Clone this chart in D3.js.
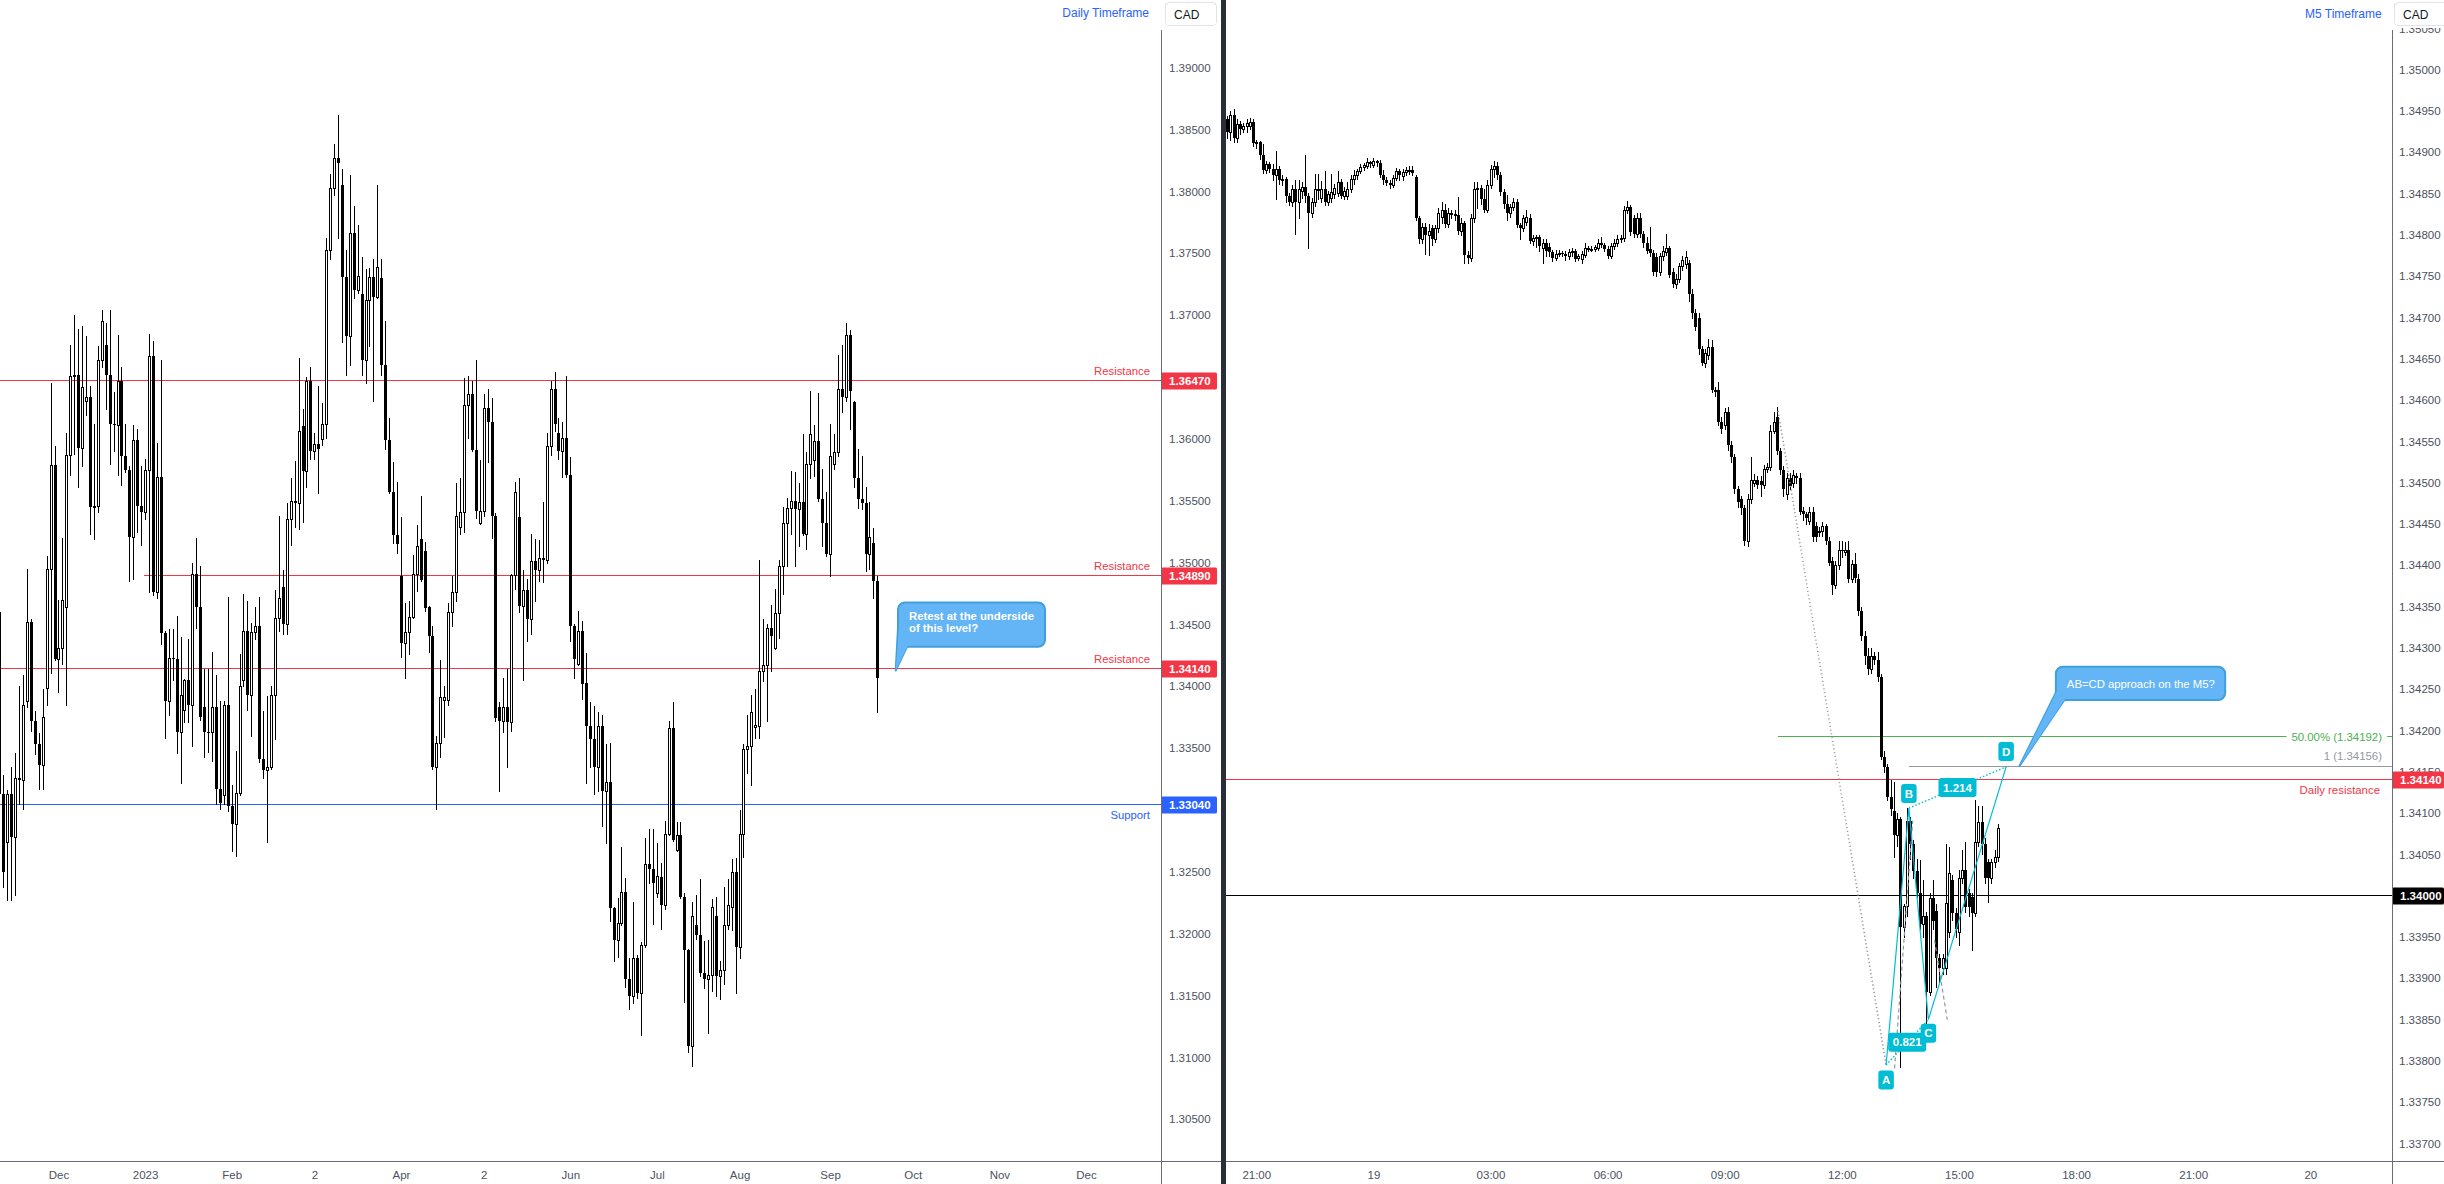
<!DOCTYPE html>
<html><head><meta charset="utf-8">
<script src="https://cdn.jsdelivr.net/npm/d3@7"></script>
<style>
html,body{margin:0;padding:0;background:#fff;overflow:hidden}
svg{display:block}
text{font-family:"Liberation Sans",Arial,sans-serif}
</style></head>
<body><svg id="c" width="2444" height="1184"></svg>
<script>
// ---------------- DATA ----------------
// Daily USD/CAD candles (values in 1e-4), first candle dated 2022-11-10, weekdays only
const dailyStart = "2022-11-10";
const dailyOpen = [
13460,13313,13274,13313,13278,13326,13324,13388,13452,13372,
13353,13336,13399,13495,13579,13422,13431,13464,13587,13651,
13652,13593,13631,13634,13545,13546,13664,13676,13652,13612,
13611,13647,13586,13575,13521,13599,13546,13541,13575,13667,
13476,13569,13443,13388,13423,13422,13363,13381,13405,13385,
13491,13464,13383,13363,13363,13383,13317,13312,13385,13303,
13289,13314,13405,13445,13393,13444,13449,13341,13332,13335,
13393,13455,13480,13450,13535,13550,13548,13610,13574,13647,
13590,13596,13600,13612,13753,13803,13827,13805,13731,13683,
13766,13720,13717,13664,13712,13731,13715,13730,13660,13599,
13557,13522,13489,13435,13444,13456,13491,13519,13509,13464,
13441,13335,13354,13389,13389,13460,13476,13529,13541,13627,
13636,13591,13532,13542,13625,13614,13538,13383,13372,13383,
13371,13490,13537,13465,13478,13454,13501,13494,13504,13502,
13594,13640,13605,13590,13601,13571,13449,13418,13445,13403,
13368,13357,13335,13368,13315,13323,13221,13195,13209,13234,
13163,13150,13180,13152,13191,13256,13252,13233,13246,13223,
13281,13366,13268,13280,13230,13187,13109,13207,13199,13168,
13163,13167,13214,13166,13171,13207,13222,13250,13189,13281,
13349,13352,13367,13368,13412,13417,13447,13431,13459,13497,
13532,13544,13550,13543,13549,13523,13580,13583,13598,13551,
13532,13507,13580,13589,13640,13634,13684,13630,13568,13551,
13548,13507,13516,13485];
const dailyHigh = [
13525,13328,13316,13335,13346,13400,13409,13495,13454,13380,
13362,13398,13505,13645,13594,13470,13520,13605,13676,13700,
13689,13691,13683,13643,13612,13675,13704,13694,13704,13638,
13684,13658,13612,13578,13611,13608,13578,13584,13685,13679,
13597,13664,13445,13446,13446,13457,13440,13406,13438,13500,
13520,13497,13414,13414,13428,13409,13388,13388,13472,13320,
13348,13426,13475,13469,13451,13464,13472,13380,13392,13400,
13478,13538,13494,13548,13568,13582,13665,13624,13650,13658,
13605,13643,13629,13762,13814,13838,13862,13818,13753,13813,
13788,13773,13747,13737,13738,13745,13805,13745,13695,13617,
13581,13565,13537,13467,13469,13506,13530,13554,13517,13465,
13449,13360,13421,13400,13467,13489,13564,13568,13649,13651,
13647,13664,13583,13636,13640,13633,13540,13387,13407,13414,
13491,13565,13568,13494,13487,13523,13519,13518,13549,13605,
13647,13654,13617,13614,13651,13585,13450,13461,13453,13427,
13387,13384,13379,13377,13353,13354,13222,13229,13270,13245,
13180,13226,13183,13193,13277,13285,13285,13273,13257,13291,
13372,13387,13290,13290,13233,13188,13226,13231,13244,13194,
13195,13228,13230,13178,13238,13244,13260,13261,13300,13353,
13377,13393,13398,13502,13454,13450,13466,13479,13502,13545,
13552,13574,13573,13564,13604,13589,13639,13611,13637,13576,
13557,13612,13604,13668,13676,13694,13688,13631,13592,13586,
13561,13549,13528,13489];
const dailyLow = [
13230,13238,13227,13227,13231,13305,13301,13383,13364,13345,
13317,13317,13385,13411,13421,13395,13418,13385,13571,13588,
13561,13578,13619,13523,13519,13541,13658,13624,13580,13590,
13571,13563,13573,13485,13487,13525,13514,13535,13476,13474,
13471,13434,13358,13377,13405,13346,13322,13371,13371,13352,
13447,13373,13343,13347,13340,13305,13301,13305,13299,13267,
13263,13312,13400,13381,13360,13438,13339,13326,13274,13333,
13357,13445,13442,13442,13514,13529,13527,13533,13561,13584,
13584,13556,13595,13601,13745,13797,13762,13678,13652,13660,
13714,13718,13652,13645,13675,13631,13714,13652,13592,13556,
13516,13508,13424,13407,13426,13455,13477,13485,13461,13428,
13333,13301,13343,13359,13385,13449,13469,13523,13525,13601,
13590,13536,13531,13538,13581,13520,13372,13315,13363,13335,
13364,13479,13460,13405,13437,13442,13469,13485,13484,13500,
13587,13606,13584,13569,13569,13437,13407,13417,13390,13322,
13335,13313,13315,13287,13273,13210,13178,13181,13207,13157,
13139,13144,13148,13118,13189,13241,13208,13230,13204,13220,
13280,13275,13267,13229,13145,13104,13093,13196,13166,13156,
13120,13154,13150,13147,13159,13204,13203,13152,13180,13262,
13330,13320,13358,13358,13404,13372,13412,13430,13439,13475,
13497,13523,13497,13513,13522,13511,13568,13570,13550,13513,
13505,13489,13576,13586,13622,13631,13608,13561,13544,13543,
13493,13495,13471,13379];
const dailyClose = [
13313,13250,13313,13278,13326,13324,13385,13452,13372,13353,
13336,13375,13495,13579,13422,13431,13470,13587,13651,13652,
13593,13642,13634,13545,13546,13664,13695,13652,13612,13611,
13647,13586,13575,13521,13599,13546,13541,13575,13667,13476,
13569,13443,13388,13423,13422,13363,13393,13405,13385,13491,
13464,13375,13363,13362,13383,13317,13306,13385,13303,13289,
13314,13400,13445,13393,13444,13449,13341,13332,13335,13393,
13455,13471,13450,13535,13550,13548,13606,13574,13647,13590,
13596,13592,13612,13753,13803,13827,13823,13731,13683,13766,
13720,13732,13664,13712,13731,13715,13739,13660,13599,13557,
13522,13515,13435,13444,13456,13491,13513,13486,13463,13441,
13335,13354,13391,13391,13460,13476,13538,13541,13627,13636,
13591,13542,13542,13625,13614,13538,13374,13372,13383,13371,
13490,13557,13465,13478,13454,13501,13494,13504,13502,13594,
13640,13612,13590,13601,13571,13449,13422,13445,13402,13368,
13357,13335,13368,13315,13323,13221,13195,13209,13234,13163,
13150,13180,13152,13191,13256,13252,13241,13247,13223,13281,
13366,13276,13280,13230,13187,13109,13214,13199,13168,13163,
13167,13222,13166,13171,13207,13223,13250,13189,13281,13349,
13352,13379,13369,13412,13417,13447,13441,13459,13497,13532,
13544,13550,13543,13549,13523,13580,13604,13598,13551,13532,
13507,13586,13589,13640,13634,13684,13639,13568,13551,13548,
13507,13521,13485,13407];
const dailyTickDates = ["2022-12-01","2023-01-02","2023-02-01","2023-03-02","2023-04-03","2023-05-02","2023-06-01","2023-07-03","2023-08-01","2023-09-01","2023-10-02","2023-11-01","2023-12-01"];
const dailyTickLabels = ["Dec","2023","Feb","2","Apr","2","Jun","Jul","Aug","Sep","Oct","Nov","Dec"];
// (1.33000 and 1.36500 are hidden behind the price boxes in the reference)
const dailyPriceTicks = [1.305,1.31,1.315,1.32,1.325,1.335,1.34,1.345,1.35,1.355,1.36,1.37,1.375,1.38,1.385,1.39];
const dailyResistance = [1.3647, 1.3489, 1.3414];
const dailyResistanceStart = ["2022-11-10", "2023-01-02", "2022-11-10"];
const dailySupport = 1.3304;
const dailyCalloutText = ["Retest at the underside", "of this level?"];
const dailyCalloutTip = ["2023-09-26", 1.34127];

// M5 candles (values in 1e-5), first candle 2023-09-18 20:15
const m5Start = "2023-09-18T20:15:00Z";
const m5Open = [
134940,134924,134945,134917,134934,134928,134932,134932,134937,134911,
134912,134897,134878,134886,134880,134872,134880,134867,134868,134847,
134840,134855,134840,134853,134858,134847,134826,134840,134855,134845,
134855,134840,134845,134849,134851,134864,134847,134847,134856,134868,
134872,134877,134882,134884,134888,134885,134889,134887,134872,134866,
134863,134861,134869,134877,134871,134876,134878,134879,134870,134820,
134795,134810,134800,134808,134795,134808,134822,134830,134813,134827,
134824,134824,134805,134815,134776,134772,134820,134855,134857,134843,
134830,134860,134880,134884,134873,134852,134837,134826,134834,134840,
134812,134808,134816,134820,134793,134796,134797,134784,134790,134785,
134779,134772,134777,134778,134777,134774,134779,134780,134772,134771,
134776,134784,134782,134783,134784,134790,134788,134783,134775,134786,
134790,134795,134796,134830,134834,134820,134801,134820,134801,134790,
134783,134778,134773,134755,134774,134779,134784,134755,134740,134747,
134762,134765,134766,134728,134705,134700,134662,134645,134655,134664,
134612,134612,134573,134570,134585,134546,134531,134492,134480,134469,
134430,134480,134500,134503,134502,134497,134517,134519,134563,134580,
134538,134515,134486,134506,134500,134508,134506,134466,134462,134454,
134465,134448,134440,134441,134447,134430,134405,134376,134400,134419,
134416,134419,134384,134401,134384,134345,134315,134290,134275,134290,
134285,134265,134168,134156,134120,134102,134073,134093,133962,133987,
134090,134063,134030,134003,133966,133975,133884,133997,133981,133924,
133912,133912,133956,134019,133979,133956,134021,134031,134003,133999,
133979,134065,134089,134063,134041,134021,134041,134047];
const m5High = [
134944,134950,134953,134940,134938,134936,134940,134942,134940,134915,
134914,134910,134890,134888,134886,134901,134883,134872,134870,134851,
134860,134866,134866,134864,134897,134851,134845,134874,134874,134865,
134877,134853,134874,134862,134877,134868,134858,134864,134872,134878,
134880,134886,134887,134893,134890,134893,134891,134891,134878,134870,
134866,134873,134881,134880,134880,134882,134884,134884,134872,134823,
134815,134815,134813,134812,134812,134832,134840,134838,134833,134830,
134830,134846,134820,134817,134780,134825,134864,134864,134860,134855,
134866,134885,134890,134888,134876,134855,134848,134838,134845,134844,
134815,134824,134830,134825,134800,134800,134800,134795,134795,134790,
134782,134782,134782,134780,134780,134783,134784,134783,134777,134780,
134790,134786,134786,134788,134795,134797,134790,134786,134790,134795,
134800,134800,134835,134841,134836,134824,134826,134826,134805,134797,
134809,134782,134778,134778,134786,134801,134787,134760,134753,134766,
134775,134780,134770,134735,134710,134705,134666,134662,134674,134673,
134616,134622,134580,134590,134592,134550,134535,134496,134484,134473,
134486,134531,134510,134508,134508,134522,134524,134570,134585,134592,
134542,134520,134512,134512,134515,134512,134512,134470,134465,134470,
134470,134452,134446,134453,134450,134434,134410,134405,134430,134430,
134428,134430,134406,134415,134390,134350,134320,134300,134300,134295,
134295,134268,134175,134160,134140,134138,134100,134095,133990,134106,
134095,134068,134045,134043,134019,133980,134003,134019,133990,133930,
133930,134063,134059,134025,133985,134031,134055,134065,134008,134003,
134116,134108,134108,134070,134045,134045,134055,134087];
const m5Low = [
134917,134915,134912,134913,134922,134924,134925,134928,134908,134905,
134892,134875,134875,134876,134866,134843,134862,134860,134840,134836,
134835,134801,134820,134845,134840,134784,134822,134835,134843,134840,
134836,134836,134840,134845,134847,134845,134843,134843,134852,134862,
134868,134875,134879,134881,134882,134882,134883,134870,134862,134860,
134857,134858,134866,134866,134867,134872,134874,134872,134818,134790,
134790,134777,134776,134788,134792,134804,134815,134810,134810,134820,
134818,134801,134800,134766,134766,134768,134816,134832,134838,134828,
134828,134857,134870,134868,134848,134832,134818,134822,134830,134810,
134795,134805,134812,134790,134788,134785,134780,134766,134775,134774,
134768,134770,134774,134774,134770,134771,134775,134768,134770,134766,
134773,134780,134780,134781,134782,134785,134780,134772,134772,134783,
134787,134792,134793,134826,134800,134798,134798,134797,134785,134778,
134774,134752,134750,134751,134770,134776,134749,134737,134736,134743,
134758,134760,134720,134700,134685,134656,134643,134640,134650,134610,
134605,134570,134560,134565,134540,134525,134488,134470,134462,134425,
134423,134475,134496,134493,134484,134493,134513,134515,134560,134535,
134510,134484,134480,134492,134495,134500,134462,134455,134450,134450,
134430,134430,134436,134436,134426,134400,134365,134372,134396,134410,
134412,134380,134380,134380,134340,134310,134280,134268,134270,134280,
134260,134165,134150,134116,134098,134047,134060,133793,133950,133975,
134045,134022,133998,133960,133950,133841,133880,133960,133890,133895,
133905,133905,133950,133970,133950,133940,134015,133980,133975,133934,
133975,134060,134050,134015,133992,134015,134035,134042];
const m5Close = [
134924,134945,134917,134934,134928,134932,134935,134937,134911,134912,
134897,134878,134886,134880,134872,134880,134867,134868,134847,134840,
134855,134840,134855,134858,134847,134826,134840,134855,134856,134855,
134840,134849,134852,134857,134864,134847,134853,134856,134868,134872,
134877,134882,134885,134888,134886,134889,134887,134872,134866,134863,
134861,134869,134877,134873,134876,134878,134879,134875,134820,134795,
134810,134800,134805,134795,134808,134827,134830,134813,134827,134824,
134825,134805,134815,134776,134772,134820,134855,134857,134843,134830,
134860,134880,134884,134873,134852,134837,134826,134834,134840,134812,
134808,134820,134822,134793,134796,134797,134786,134790,134780,134779,
134772,134777,134778,134777,134774,134779,134780,134771,134774,134777,
134784,134782,134783,134785,134790,134788,134783,134775,134786,134790,
134795,134796,134830,134834,134803,134801,134820,134801,134790,134781,
134778,134755,134755,134774,134781,134784,134751,134740,134747,134762,
134770,134773,134728,134705,134689,134662,134645,134657,134664,134612,
134610,134573,134565,134585,134546,134531,134492,134477,134469,134430,
134480,134503,134503,134497,134497,134517,134519,134563,134574,134538,
134515,134492,134506,134496,134509,134506,134465,134462,134457,134465,
134434,134434,134442,134447,134430,134403,134376,134400,134419,134418,
134419,134384,134401,134385,134345,134315,134290,134275,134290,134285,
134265,134168,134156,134120,134105,134073,134093,133962,133987,134090,
134063,134030,134003,133966,133975,133884,133997,133969,133924,133912,
133924,133991,134027,133979,133960,134021,134031,133986,133986,133979,
134065,134089,134063,134021,134021,134041,134047,134082];
const m5TickTimes = ["2023-09-18T21:00:00Z","2023-09-19T00:00:00Z","2023-09-19T03:00:00Z","2023-09-19T06:00:00Z","2023-09-19T09:00:00Z","2023-09-19T12:00:00Z","2023-09-19T15:00:00Z","2023-09-19T18:00:00Z","2023-09-19T21:00:00Z","2023-09-20T00:00:00Z"];
const m5TickLabels = ["21:00","19","03:00","06:00","09:00","12:00","15:00","18:00","21:00","20"];
// (1.34000 is shown by its own black price box)
const m5PriceTicks = [1.337,1.3375,1.338,1.3385,1.339,1.3395,1.3405,1.341,1.3415,1.342,1.3425,1.343,1.3435,1.344,1.3445,1.345,1.3455,1.346,1.3465,1.347,1.3475,1.348,1.3485,1.349,1.3495,1.35,1.3505];
const m5DailyResistance = 1.3414;
const m5RoundLevel = 1.34;
// ABCD pattern points: bar offsets from m5Start (5-minute bars) and prices
const abcdNames = ["A","B","C","D"];
const abcdBar = [202.6, 209.6, 215.6, 239.5];
const abcdPrice = [1.33795, 1.34106, 1.33850, 1.34156];
const abcdRatios = ["0.821", "1.214"];
const swingHighBar = 169.4, swingHighPrice = 1.34587;
const fibLevels = [1.34192, 1.34156];
const fibLabels = ["50.00% (1.34192)", "1 (1.34156)"];
const fibStartBar = [169.4, 209.6];
const greyDashBars = [[205.2, 210.8], [217.5, 221.4]];
const greyDashPrices = [[1.33791, 1.34091], [1.33946, 1.33850]];
const m5CalloutText = "AB=CD approach on the M5?";
const m5CalloutTip = [243.6, 1.34157];

// ---------------- HELPERS ----------------
const svg = d3.select("#c");
const FONT = '"Liberation Sans",Arial,sans-serif';
const AXIS_TXT = "#4c525e";
function weekdayIndex(startStr, dateStr){
  const s = new Date(startStr+"T00:00:00Z"), d = new Date(dateStr+"T00:00:00Z");
  let n = 0;
  for (let t = new Date(s); t < d; t.setUTCDate(t.getUTCDate()+1)) { const w = t.getUTCDay(); if (w!==0 && w!==6) n++; }
  return n;
}
const m5t0 = new Date(m5Start).getTime();
const barOf = s => (new Date(s).getTime() - m5t0) / 300000;
const px = v => Math.round(v) + 0.5;

function drawCandles(g, n, x, y, O, Hi, Lo, C, div){
  const idx = d3.range(n);
  g.selectAll("line.w").data(idx).join("line").attr("class","w")
    .attr("x1", i => Math.round(x(i))+0.5).attr("x2", i => Math.round(x(i))+0.5)
    .attr("y1", i => Math.round(y(Hi[i]/div))).attr("y2", i => Math.round(y(Lo[i]/div))+1)
    .attr("stroke","#000").attr("stroke-width",1);
  g.selectAll("rect.b").data(idx).join("rect").attr("class","b")
    .attr("x", i => Math.round(x(i))-1)
    .attr("y", i => Math.round(y(Math.max(O[i],C[i])/div)))
    .attr("width", 3)
    .attr("height", i => { const t=Math.round(y(Math.max(O[i],C[i])/div)), b=Math.round(y(Math.min(O[i],C[i])/div)); return Math.max(1,b-t)+(C[i]>O[i]?1:0); })
    .attr("fill","#000");
  const up = idx.filter(i => C[i] > O[i] && (Math.round(y(O[i]/div)) - Math.round(y(C[i]/div))) >= 2);
  g.selectAll("rect.h").data(up).join("rect").attr("class","h")
    .attr("x", i => Math.round(x(i)))
    .attr("y", i => Math.round(y(C[i]/div))+1)
    .attr("width", 1)
    .attr("height", i => Math.round(y(O[i]/div)) - Math.round(y(C[i]/div)) - 1)
    .attr("fill","#fff");
}
function priceBox(g, x0, w, yv, text, fill){
  g.append("rect").attr("x",x0).attr("y",Math.round(yv)-8.5).attr("width",w).attr("height",17).attr("rx",1.5).attr("fill",fill);
  g.append("text").attr("x",x0+8).attr("y",yv).attr("dy","0.35em").attr("fill","#fff")
    .attr("font-size","11.5px").attr("font-weight","bold").text(text);
}
function callout(g, bx, by, bw, bh, a1, a2, tip, lines, fs, weight){
  const fill="#64b5f6", stroke="#3fa0dc";
  g.append("path").attr("d", d3.line()([a1, a2, tip]) + "Z").attr("fill",fill).attr("stroke",stroke).attr("stroke-width",2).attr("stroke-linejoin","round");
  g.append("rect").attr("x",bx).attr("y",by).attr("width",bw).attr("height",bh).attr("rx",7).attr("fill",fill).attr("stroke",stroke).attr("stroke-width",2);
  g.append("path").attr("d", d3.line()([[a1[0]+1.5,a1[1]-3],[a2[0]+2,a2[1]-1.5],[ (a1[0]+a2[0])/2+1, (a1[1]+a2[1])/2+4 ]]) + "Z").attr("fill",fill);
  g.append("path").attr("d", d3.line()([[a1[0]+1.2,a1[1]-2],[a2[0]+1,a2[1]-1.2],tip]) + "Z").attr("fill",fill);
  lines.forEach((t,k)=> g.append("text").attr("x",bx+11).attr("y",lines.length>1 ? by+18+k*12 : by+bh/2+4.3)
    .attr("fill","#fff").attr("font-size",fs).attr("font-weight",weight).text(t));
}

// ---------------- LEFT (DAILY) PANEL ----------------
const LX1 = 1161, BOT = 1161, TOP = 30;
const xD = d3.scaleLinear().domain([0, 276]).range([-0.6, 1086.0]);
const yD = d3.scaleLinear().domain([1.39, 1.305]).range([67.7, 1119.3]);
svg.append("clipPath").attr("id","clipL").append("rect").attr("x",0).attr("y",0).attr("width",LX1).attr("height",BOT);
const gL = svg.append("g").attr("clip-path","url(#clipL)");

// level lines
const gLines = gL.append("g").attr("shape-rendering","crispEdges");
dailyResistance.forEach((v,k)=>{
  const xs = Math.max(0, xD(weekdayIndex(dailyStart, dailyResistanceStart[k])) - 1);
  gLines.append("line").attr("x1", k===1 ? xs : 0).attr("x2", LX1).attr("y1", px(yD(v))-1).attr("y2", px(yD(v))-1).attr("stroke","#f23645").attr("stroke-width",1);
  gL.append("text").attr("x",1150).attr("y",yD(v)-10).attr("dy","0.35em").attr("text-anchor","end").attr("fill","#f23645").attr("font-size","11.3px").text("Resistance");
});
gLines.append("line").attr("x1",0).attr("x2",LX1).attr("y1",px(yD(dailySupport))-1).attr("y2",px(yD(dailySupport))-1).attr("stroke","#2962ff").attr("stroke-width",1);
gL.append("text").attr("x",1150).attr("y",yD(dailySupport)+10).attr("dy","0.35em").attr("text-anchor","end").attr("fill","#2962ff").attr("font-size","11.3px").text("Support");

const gCD = gL.append("g").attr("shape-rendering","crispEdges");
drawCandles(gCD, dailyOpen.length, xD, yD, dailyOpen, dailyHigh, dailyLow, dailyClose, 10000);

// callout
{
  const tipX = xD(weekdayIndex(dailyStart, dailyCalloutTip[0])) - 1.3, tipY = yD(dailyCalloutTip[1]);
  const bx = tipX + 2.3, by = tipY - 68.1;
  callout(gL, bx, by, 147, 44.3, [bx+0.5, by+15.5], [bx+9, by+44.3], [tipX, tipY], dailyCalloutText, "11.3px", "bold");
}
// header
svg.append("text").attr("x",1149).attr("y",17).attr("text-anchor","end").attr("fill","#2962ff").attr("font-size","12px").text("Daily Timeframe");

// price axis
const gAL = svg.append("g").attr("transform",`translate(${LX1},0)`);
svg.append("clipPath").attr("id","clipAL").append("rect").attr("x",0).attr("y",28).attr("width",60).attr("height",BOT-28);
const axL = d3.axisRight(yD).tickValues(dailyPriceTicks).tickFormat(d3.format(".5f")).tickSize(0).tickPadding(8);
gAL.attr("clip-path","url(#clipAL)").call(axL);
gAL.select(".domain").remove();
gAL.selectAll("text").attr("fill",AXIS_TXT).attr("font-size","11.5px").attr("font-family",FONT);
dailyResistance.forEach(v => priceBox(svg, LX1, 56, yD(v), d3.format(".5f")(v), "#f23645"));
priceBox(svg, LX1, 56, yD(dailySupport), d3.format(".5f")(dailySupport), "#2962ff");

// time axis
const gTL = svg.append("g").attr("transform",`translate(0,${BOT})`);
const axTL = d3.axisBottom(xD).tickValues(dailyTickDates.map(d=>weekdayIndex(dailyStart,d))).tickFormat((d,i)=>dailyTickLabels[i]).tickSize(0).tickPadding(9.5);
gTL.call(axTL); gTL.select(".domain").remove();
gTL.selectAll("text").attr("fill",AXIS_TXT).attr("font-size","11.5px").attr("font-family",FONT);

// frame lines
const gF = svg.append("g").attr("shape-rendering","crispEdges");
gF.append("line").attr("x1",LX1+0.5).attr("x2",LX1+0.5).attr("y1",TOP).attr("y2",1184).attr("stroke","#6a6d78");
gF.append("line").attr("x1",0).attr("x2",1221).attr("y1",BOT+0.5).attr("y2",BOT+0.5).attr("stroke","#6a6d78");
gF.append("rect").attr("x",1165.5).attr("y",2.5).attr("width",51).attr("height",23).attr("rx",4).attr("fill","#fff").attr("stroke","#e0e3eb");
svg.append("text").attr("x",1174).attr("y",18.5).attr("fill","#131722").attr("font-size","12px").text("CAD");

// divider
gF.append("rect").attr("x",1221).attr("y",0).attr("width",5).attr("height",1184).attr("fill","#2a2e39");

// ---------------- RIGHT (M5) PANEL ----------------
const RX0 = 1226, RX1 = 2392;
const xM = d3.scaleLinear().domain([0, 333]).range([1227, 2310.3]);
const yM = d3.scaleLinear().domain([1.35, 1.34]).range([69.7, 895.7]);
svg.append("clipPath").attr("id","clipR").append("rect").attr("x",RX0).attr("y",0).attr("width",RX1-RX0).attr("height",BOT);
const gR = svg.append("g").attr("clip-path","url(#clipR)");
const gRL = gR.append("g").attr("shape-rendering","crispEdges");
gRL.append("line").attr("x1",RX0).attr("x2",RX1).attr("y1",px(yM(m5DailyResistance))-1).attr("y2",px(yM(m5DailyResistance))-1).attr("stroke","#f23645");
gRL.append("line").attr("x1",RX0).attr("x2",RX1).attr("y1",px(yM(m5RoundLevel))-1).attr("y2",px(yM(m5RoundLevel))-1).attr("stroke","#000");
gRL.append("line").attr("x1",xM(fibStartBar[0])).attr("x2",RX1).attr("y1",px(yM(fibLevels[0]))-1).attr("y2",px(yM(fibLevels[0]))-1).attr("stroke","#4caf50");
gRL.append("line").attr("x1",xM(fibStartBar[1])).attr("x2",RX1).attr("y1",px(yM(fibLevels[1]))-1).attr("y2",px(yM(fibLevels[1]))-1).attr("stroke","#9598a1");

const gCM = gR.append("g").attr("shape-rendering","crispEdges");
drawCandles(gCM, m5Open.length, xM, yM, m5Open, m5High, m5Low, m5Close, 100000);

// swing-high to A dotted line
const P = abcdBar.map((b,i)=>[xM(b), yM(abcdPrice[i])]);
gR.append("line").attr("x1",xM(swingHighBar)).attr("y1",yM(swingHighPrice)).attr("x2",P[0][0]).attr("y2",P[0][1])
  .attr("stroke","#9598a1").attr("stroke-width",1.6).attr("stroke-dasharray","1.2,2.6");
greyDashBars.forEach((b,k)=> gR.append("line").attr("x1",xM(b[0])).attr("y1",yM(greyDashPrices[k][0])).attr("x2",xM(b[1])).attr("y2",yM(greyDashPrices[k][1]))
  .attr("stroke","#9598a1").attr("stroke-width",1.2).attr("stroke-dasharray","4,3"));
// ABCD lines
const CY = "#00bcd4";
gR.append("path").attr("d", d3.line()(P)).attr("fill","none").attr("stroke",CY).attr("stroke-width",1.2);
gR.append("line").attr("x1",P[0][0]).attr("y1",P[0][1]).attr("x2",P[2][0]).attr("y2",P[2][1]).attr("stroke",CY).attr("stroke-width",1.4).attr("stroke-dasharray","1.5,2");
gR.append("line").attr("x1",P[1][0]).attr("y1",P[1][1]).attr("x2",P[3][0]).attr("y2",P[3][1]).attr("stroke",CY).attr("stroke-width",1.4).attr("stroke-dasharray","1.5,2");
function tag(cx, cy, w, t){
  gR.append("rect").attr("x",cx-w/2).attr("y",cy-9.5).attr("width",w).attr("height",19).attr("rx",3).attr("fill",CY);
  gR.append("text").attr("x",cx).attr("y",cy).attr("dy","0.36em").attr("text-anchor","middle").attr("fill","#fff").attr("font-size","11.5px").attr("font-weight","bold").text(t);
}
tag((P[0][0]+P[2][0])/2, (P[0][1]+P[2][1])/2, 38, abcdRatios[0]);
tag((P[1][0]+P[3][0])/2, (P[1][1]+P[3][1])/2, 38, abcdRatios[1]);
const tagOff = [15, -14.6, 13.7, -15.4];
P.forEach((p,i)=> tag(p[0], p[1]+tagOff[i], 15.5, abcdNames[i]));

// fib labels
{
  const t1 = gR.append("text").attr("x",2382).attr("y",yM(fibLevels[0])).attr("dy","0.35em").attr("text-anchor","end").attr("fill","#4caf50").attr("font-size","11.4px").text(fibLabels[0]);
  const bb = t1.node().getBBox();
  gR.insert("rect", function(){ return t1.node(); }).attr("x",bb.x-5).attr("y",bb.y).attr("width",bb.width+10).attr("height",bb.height).attr("fill","#fff");
  gR.append("text").attr("x",2382).attr("y",yM(fibLevels[1])-10.6).attr("dy","0.35em").attr("text-anchor","end").attr("fill","#9598a1").attr("font-size","11.4px").text(fibLabels[1]);
  gR.append("text").attr("x",2380).attr("y",yM(m5DailyResistance)+10).attr("dy","0.35em").attr("text-anchor","end").attr("fill","#f23645").attr("font-size","11.4px").text("Daily resistance");
}
// M5 callout
{
  const tipX = xM(m5CalloutTip[0]), tipY = yM(m5CalloutTip[1]);
  const bx = tipX + 36.4, by = tipY - 99.3;
  callout(gR, bx, by, 169.3, 33.3, [bx+0.5, by+25], [bx+8.5, by+33.3], [tipX, tipY], [m5CalloutText], "11.3px", "normal");
}
svg.append("text").attr("x",2381.7).attr("y",18).attr("text-anchor","end").attr("fill","#2962ff").attr("font-size","12px").text("M5 Timeframe");

// M5 price axis
svg.append("clipPath").attr("id","clipAR").append("rect").attr("x",0).attr("y",28).attr("width",60).attr("height",BOT-28);
const gAR = svg.append("g").attr("transform",`translate(${RX1},0)`).attr("clip-path","url(#clipAR)");
gAR.call(d3.axisRight(yM).tickValues(m5PriceTicks).tickFormat(d3.format(".5f")).tickSize(0).tickPadding(7));
gAR.select(".domain").remove();
gAR.selectAll("text").attr("fill",AXIS_TXT).attr("font-size","11.5px").attr("font-family",FONT);
priceBox(svg, RX1, 52, yM(m5DailyResistance), d3.format(".5f")(m5DailyResistance), "#f23645");
priceBox(svg, RX1, 52, yM(m5RoundLevel), d3.format(".5f")(m5RoundLevel), "#000");

// M5 time axis
const gTR = svg.append("g").attr("transform",`translate(0,${BOT})`);
gTR.call(d3.axisBottom(xM).tickValues(m5TickTimes.map(barOf)).tickFormat((d,i)=>m5TickLabels[i]).tickSize(0).tickPadding(9.5));
gTR.select(".domain").remove();
gTR.selectAll("text").attr("fill",AXIS_TXT).attr("font-size","11.5px").attr("font-family",FONT);

const gF2 = svg.append("g").attr("shape-rendering","crispEdges");
gF2.append("line").attr("x1",RX1+0.5).attr("x2",RX1+0.5).attr("y1",TOP).attr("y2",1184).attr("stroke","#6a6d78");
gF2.append("line").attr("x1",RX0).attr("x2",2444).attr("y1",BOT+0.5).attr("y2",BOT+0.5).attr("stroke","#6a6d78");
gF2.append("rect").attr("x",2394.5).attr("y",2.5).attr("width",60).attr("height",23).attr("rx",4).attr("fill","#fff").attr("stroke","#e0e3eb");
svg.append("text").attr("x",2403).attr("y",18.5).attr("fill","#131722").attr("font-size","12px").text("CAD");
</script>
</body></html>
